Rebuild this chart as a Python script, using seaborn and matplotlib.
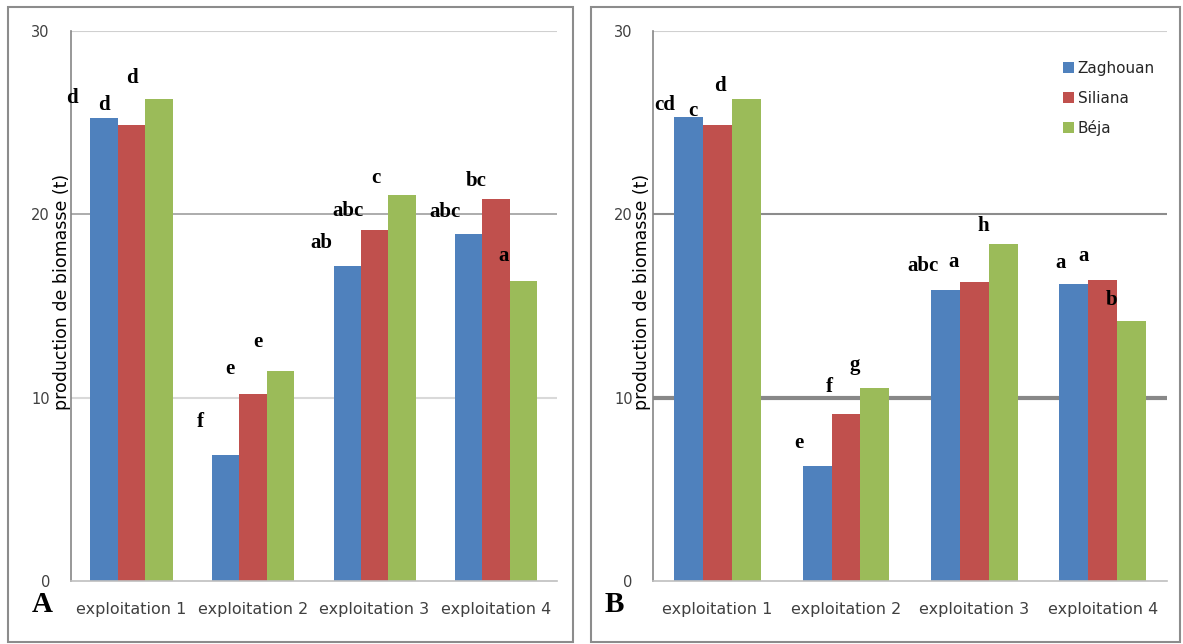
import numpy as np
import pandas as pd
import matplotlib
matplotlib.use('Agg')
import matplotlib.pyplot as plt
import seaborn as sns
from matplotlib.patches import Rectangle

# ---- data ----
exploitations = ['exploitation 1', 'exploitation 2', 'exploitation 3', 'exploitation 4']
sites = ['Zaghouan', 'Siliana', 'Béja']
colors = ['#4f81bd', '#c0504d', '#9bbb59']

# panel A
zaghouan_a = [25.25, 6.85, 17.2, 18.9]
siliana_a = [24.85, 10.2, 19.15, 20.85]
beja_a = [26.3, 11.45, 21.05, 16.35]

# panel B
zaghouan_b = [25.3, 6.25, 15.85, 16.2]
siliana_b = [24.85, 9.1, 16.3, 16.4]
beja_b = [26.3, 10.5, 18.4, 14.15]

# significance letters (x in category units, y in tonnes)
letters_a = ['d', 'd', 'd', 'f', 'e', 'e', 'ab', 'abc', 'c', 'abc', 'bc', 'a']
letters_a_x = [-0.49, -0.23, 0.0, 0.57, 0.81, 1.04, 1.56, 1.78, 2.01, 2.58, 2.84, 3.06]
letters_a_y = [26.35, 25.95, 27.4, 8.65, 11.55, 13.05, 18.45, 20.2, 22.0, 20.1, 21.8, 17.7]

letters_b = ['cd', 'c', 'd', 'e', 'f', 'g', 'abc', 'a', 'h', 'a', 'a', 'b']
letters_b_x = [-0.41, -0.19, 0.02, 0.63, 0.87, 1.07, 1.6, 1.84, 2.07, 2.67, 2.85, 3.07]
letters_b_y = [25.95, 25.6, 27.0, 7.55, 10.6, 11.8, 17.15, 17.4, 19.35, 17.35, 17.7, 15.3]


def to_long(z, s, b):
    rows = []
    for vals, site in zip([z, s, b], sites):
        for e, v in zip(exploitations, vals):
            rows.append({'exploitation': e, 'site': site, 'biomasse': v})
    return pd.DataFrame(rows)


df_a = to_long(zaghouan_a, siliana_a, beja_a)
df_b = to_long(zaghouan_b, siliana_b, beja_b)

sns.set_style('white')
plt.rcParams['font.family'] = ['DejaVu Sans']

fig = plt.figure(figsize=(11.83, 6.44), dpi=100)

# outer frames of the two panels
for x0, x1 in [(8, 573), (591, 1180)]:
    fig.patches.append(Rectangle((x0 / 1183, 1 - 642 / 644), (x1 - x0) / 1183, (642 - 7) / 644,
                                 transform=fig.transFigure, fill=False,
                                 edgecolor='#8c8c8c', linewidth=1.5))

ax_a = fig.add_axes([0.0598, 0.0978, 0.4109, 0.8544])
ax_b = fig.add_axes([0.5524, 0.0978, 0.4339, 0.8544])


def draw_panel(ax, df, letters, lx, ly, grid_styles, panel, lab_x, legend):
    sns.barplot(data=df, x='exploitation', y='biomasse', hue='site', palette=colors,
                saturation=1, width=0.675, ax=ax, legend=legend, linewidth=0)
    ax.set_ylim(0, 30)
    ax.set_xlim(-0.5, 3.5)
    ax.set_yticks([0, 10, 20, 30])
    ax.set_xlabel('')
    ax.set_ylabel('')
    ax.set_axisbelow(True)
    ax.yaxis.grid(True)
    for gl, (c, lw) in zip(ax.get_ygridlines(), grid_styles):
        gl.set_color(c)
        gl.set_linewidth(lw)
    ax.get_ygridlines()[0].set_visible(False)
    for sp in ['top', 'right']:
        ax.spines[sp].set_visible(False)
    ax.spines['left'].set_color('#868686')
    ax.spines['left'].set_linewidth(1.2)
    ax.spines['bottom'].set_color('#bfbfbf')
    ax.spines['bottom'].set_linewidth(1.2)
    ax.tick_params(axis='y', length=6, color='#bfbfbf', pad=9, labelsize=10.5, labelcolor='#404040')
    ax.tick_params(axis='x', length=0, pad=15, labelsize=11.5, labelcolor='#404040')
    ax.set_xticks([-0.5, 0.5, 1.5, 2.5, 3.5], minor=True)
    ax.tick_params(axis='x', which='minor', length=5, color='#bfbfbf', width=1.2)

    for t, x, y in zip(letters, lx, ly):
        ax.text(x, y, t, ha='center', va='center', fontsize=15, fontweight='bold',
                family='Liberation Serif', color='black')

    ax.text(lab_x, 0.525, 'production de biomasse (t)', transform=ax.transAxes,
            rotation=90, ha='center', va='center', fontsize=12.5, color='black')
    ax.text(-0.058 if panel == 'A' else -0.076, -0.042, panel, transform=ax.transAxes,
            ha='center', va='center', fontsize=21, fontweight='bold',
            family='Liberation Serif', color='black')


draw_panel(ax_a, df_a, letters_a, letters_a_x, letters_a_y,
           [('#d9d9d9', 1.5), ('#d9d9d9', 1.5), ('#a6a6a6', 1.3), ('#d0d0d0', 1.5)],
           'A', -0.018, False)
draw_panel(ax_b, df_b, letters_b, letters_b_x, letters_b_y,
           [('#d9d9d9', 1.5), ('#888888', 3.0), ('#8c8c8c', 1.5), ('#d0d0d0', 1.5)],
           'B', -0.0224, True)

leg = ax_b.legend(loc='upper left', bbox_to_anchor=(0.797, 0.945), frameon=False,
                  fontsize=11, handlelength=0.75, handleheight=0.75, handletextpad=0.25,
                  labelspacing=0.95, borderaxespad=0, borderpad=0)
for txt in leg.get_texts():
    txt.set_color('#262626')

fig.savefig('out.png', dpi=100)
